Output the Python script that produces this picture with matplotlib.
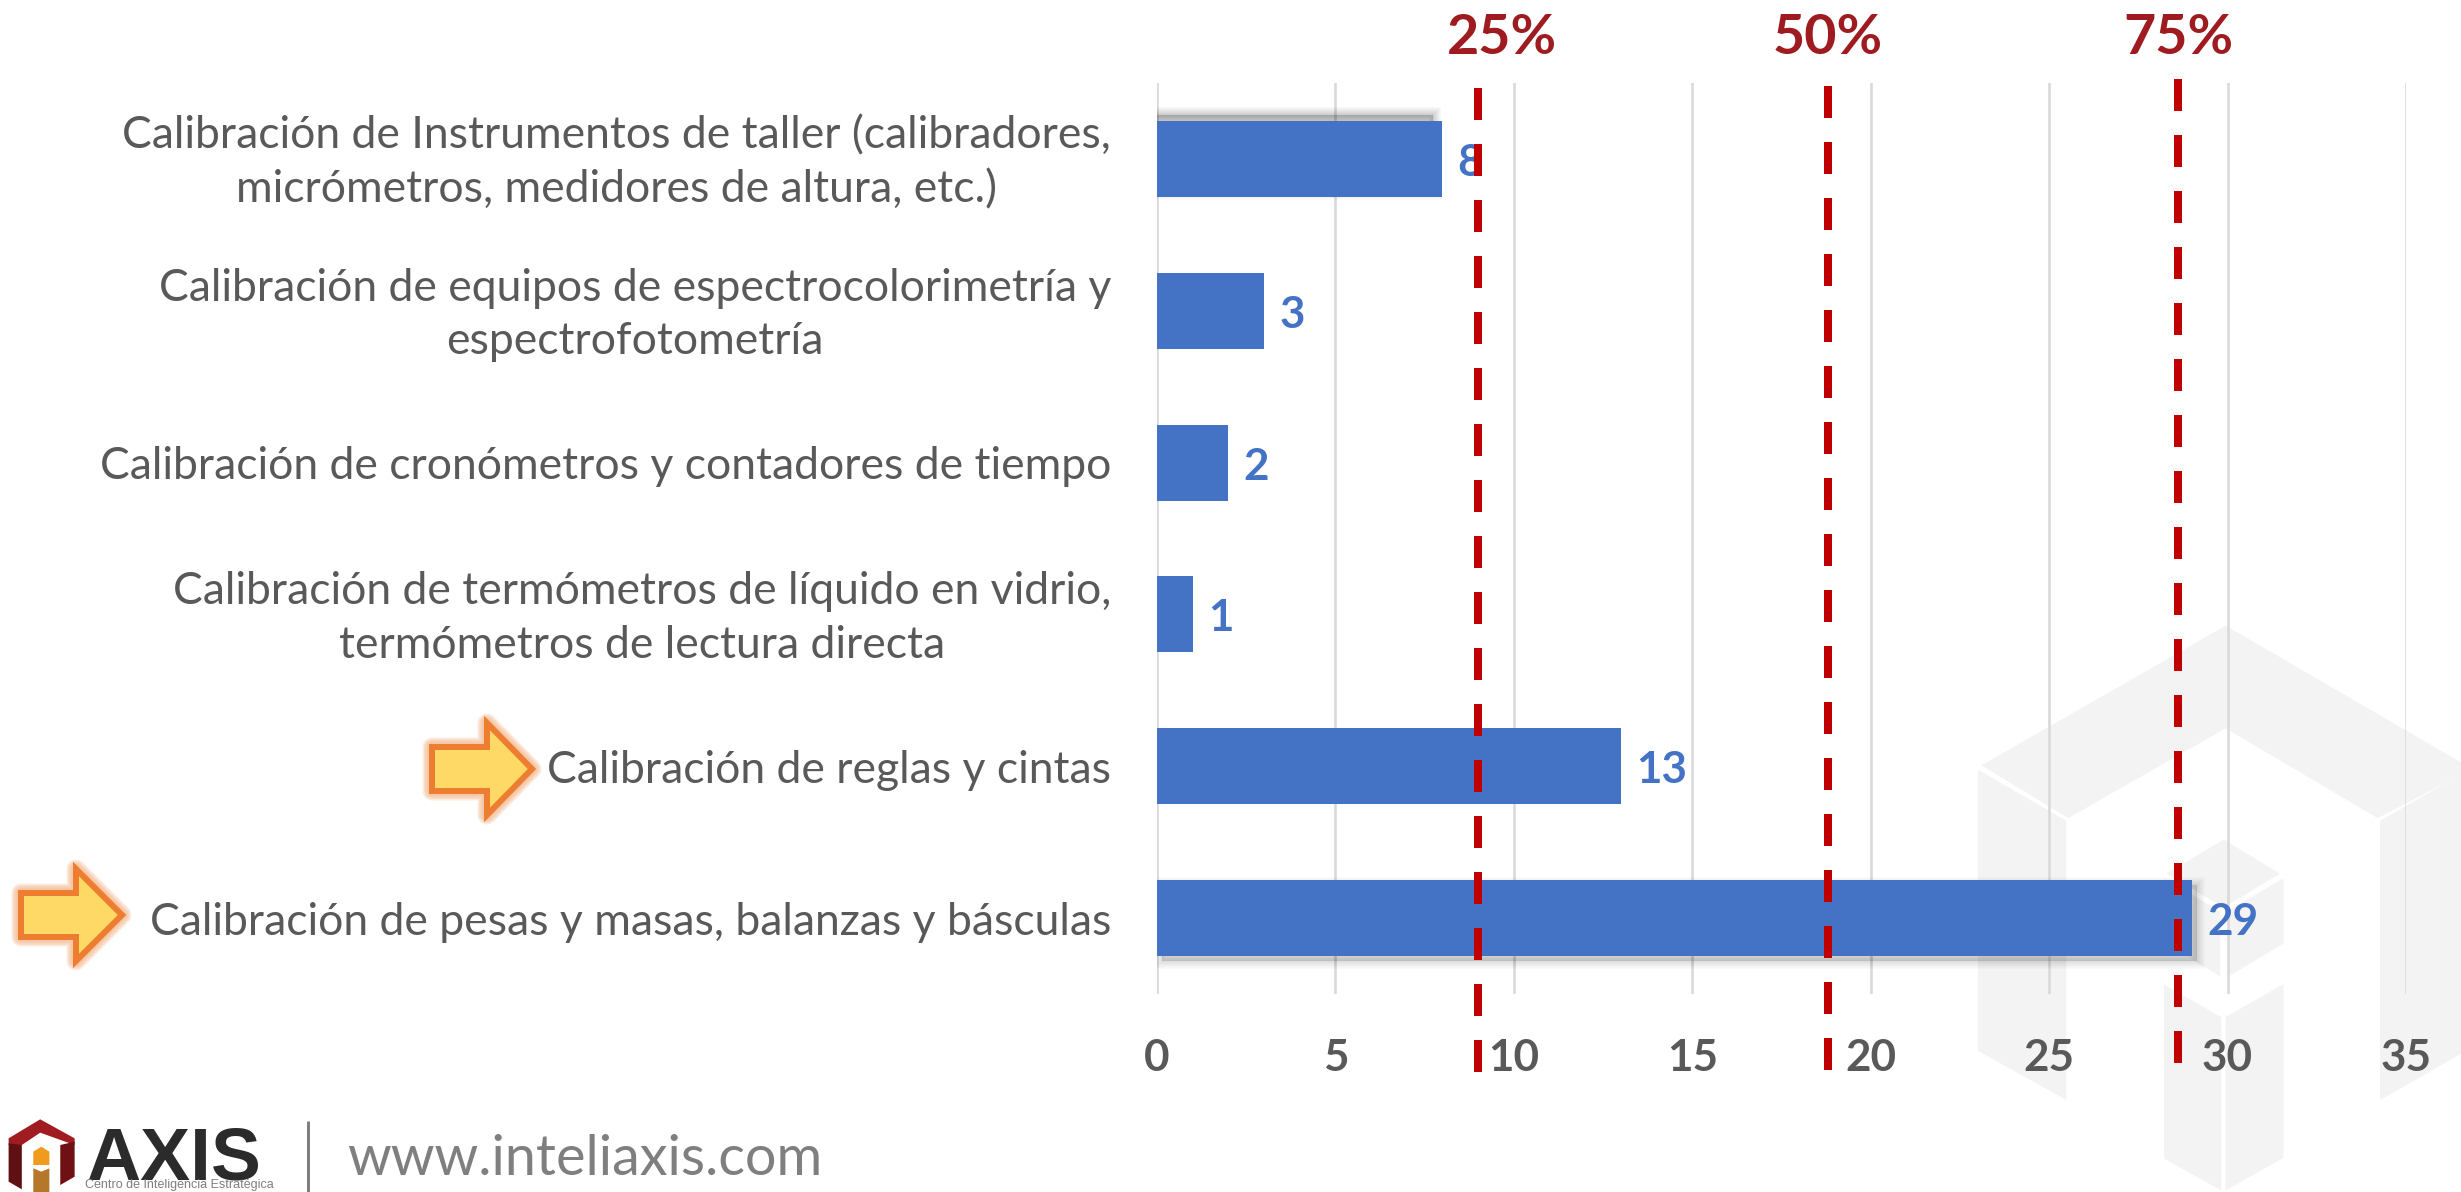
import matplotlib
matplotlib.use('Agg')
import matplotlib.pyplot as plt
import matplotlib.patheffects as pe
from matplotlib.patches import Polygon
from matplotlib.transforms import blended_transform_factory, Affine2D

categories = ['Calibración de Instrumentos de taller (calibradores,\nmicrómetros, medidores de altura, etc.)',
              'Calibración de equipos de espectrocolorimetría y\nespectrofotometría',
              'Calibración de cronómetros y contadores de tiempo',
              'Calibración de termómetros de líquido en vidrio,\ntermómetros de lectura directa',
              'Calibración de reglas y cintas',
              'Calibración de pesas y masas, balanzas y básculas']
values = [8, 3, 2, 1, 13, 29]
x_ticks = [0, 5, 10, 15, 20, 25, 30, 35]
quartiles = [9.0, 18.8, 28.6]
quartile_labels = ['25%', '50%', '75%']

W, H = 2461, 1192
PX = 72 / 100  # points per pixel at dpi 100
GREY = '#595959'
BLUE = '#4472C4'

plt.rcParams['font.family'] = ['Lato', 'DejaVu Sans']

fig = plt.figure(figsize=(W / 100, H / 100), dpi=100, facecolor='white')

# background layer in pixel coordinates: watermark, arrows, logo
bg = fig.add_axes([0, 0, 1, 1], zorder=0)
bg.set_xlim(0, W)
bg.set_ylim(H, 0)
bg.axis('off')


def wm(points):
    pts = [(1900 + x / 2.795, 600 + y / 2.65) for x, y in points]
    bg.add_patch(Polygon(pts, closed=True, fc='#F3F3F3', ec='none'))


wm([(910, 68), (1600, 448), (1335, 578), (910, 340), (470, 578), (228, 438)])
wm([(218, 450), (465, 585), (465, 1325), (218, 1195)])
wm([(1342, 585), (1600, 445), (1600, 1185), (1342, 1325)])
wm([(905, 635), (1062, 725), (905, 815), (745, 725)])
wm([(738, 738), (895, 825), (895, 998), (738, 905)])
wm([(918, 822), (1072, 738), (1072, 910), (918, 998)])
wm([(738, 1020), (898, 1105), (898, 1565), (738, 1480)])
wm([(910, 1105), (1072, 1018), (1072, 1478), (910, 1565)])


def arrow(left, notch, tip, y_mid, body, head):
    pts = [(left, y_mid - body), (notch, y_mid - body), (notch, y_mid - head), (tip, y_mid),
           (notch, y_mid + head), (notch, y_mid + body), (left, y_mid + body)]
    for w in [19, 16, 13, 10]:
        bg.add_patch(Polygon(pts, closed=True, fc='none', ec='#F4B183', alpha=0.25,
                             lw=w * PX, joinstyle='round'))
    bg.add_patch(Polygon(pts, closed=True, fc='#FFD966', ec='#ED7D31', lw=6 * PX, joinstyle='miter'))


arrow(432, 487, 532, 769, 22, 46)
arrow(21, 76, 122, 915, 22, 46)


def lg(points, color):
    pts = [(x / 1.742, 1030 + y / 3) for x, y in points]
    bg.add_patch(Polygon(pts, closed=True, fc=color, ec='none'))


lg([(15, 325), (70, 268), (130, 325), (130, 345), (70, 308), (38, 345), (15, 345)], '#A01C20')
lg([(15, 340), (38, 345), (38, 478), (15, 455)], '#5E1014')
lg([(105, 345), (130, 335), (130, 440), (105, 465)], '#6E1014')
lg([(58, 365), (72, 350), (86, 365), (86, 405), (58, 405)], '#F09A1E')
lg([(58, 415), (72, 425), (86, 415), (86, 486), (58, 486)], '#B5772A')

bg.text(86, 1180, 'AXIS', fontsize=75 * PX, fontweight='bold', color='#2B2B2B',
        family=['Liberation Sans'], ha='left', va='baseline')
bg.text(85, 1191, 'Centro de Inteligencia Estratégica', fontsize=12.5 * PX, color='#7F7F7F',
        family=['Liberation Sans Narrow', 'Liberation Sans'], ha='left', va='bottom')
bg.plot([308, 308], [1121, 1192], color='#7F7F7F', lw=3 * PX, solid_capstyle='butt')
bg.text(347, 1175, 'www.inteliaxis.com', fontsize=55.8 * PX, color='#7F7F7F', ha='left', va='baseline')

# chart
ax = fig.add_axes([1157 / W, 1 - 994 / H, (2406 - 1157) / W, (994 - 83) / H], zorder=1)
ax.patch.set_alpha(0)
y = list(range(len(values)))
bars = ax.barh(y, values, height=0.5, color=BLUE, zorder=2)


class GreyShadow(pe.Stroke):
    # same as Stroke but the fill of the layer is black, not the bar colour
    def draw_path(self, renderer, gc, tpath, affine, rgbFace):
        super().draw_path(renderer, gc, tpath, affine, (0, 0, 0))


layers = [16, 14, 12, 10, 8, 6, 4, 2]
bars[0].set_path_effects([GreyShadow(linewidth=w * PX, foreground='black', alpha=0.022,
                                     offset=(-9 * PX, 6 * PX)) for w in layers] + [pe.Normal()])
bars[5].set_path_effects([GreyShadow(linewidth=w * PX, foreground='black', alpha=0.016,
                                     offset=(5 * PX, -5 * PX)) for w in layers] + [pe.Normal()])

ax.set_xlim(0, 35)
ax.set_ylim(5.5, -0.5)
ax.set_xticks(x_ticks)
ax.set_yticks(y)
ax.set_yticklabels(categories, fontsize=44.5 * PX, color=GREY, linespacing=1.38, ma='center')
ax.tick_params(axis='y', length=0, pad=46 * PX)
ax.tick_params(axis='x', length=0, pad=64 * PX)
# two-line labels sit a little higher than the bar centre
for lab, cat in zip(ax.get_yticklabels(), categories):
    if '\n' in cat:
        lab.set_transform(lab.get_transform() + Affine2D().translate(0, 6))
for lab in ax.get_xticklabels():
    lab.set_fontsize(44 * PX)
    lab.set_fontweight('bold')
    lab.set_color(GREY)
    lab.set_va('center')
ax.grid(axis='x', color='#D9D9D9', lw=2.6 * PX, zorder=0)
ax.set_axisbelow(True)
for s in ax.spines.values():
    s.set_visible(False)

for yi, v in zip(y, values):
    ax.annotate(str(v), (v, yi), xytext=(15 * PX, -4 * PX), textcoords='offset points', fontsize=44 * PX,
                fontweight='bold', color=BLUE, ha='left', va='center', zorder=3)

# quartile lines run past the plot area
tr = blended_transform_factory(ax.transData, fig.transFigure)
for q, top, bottom in zip(quartiles, [88, 86, 79], [1072, 1070, 1063]):
    ax.plot([q, q], [1 - top / H, 1 - bottom / H], transform=tr, color='#C00000', lw=8 * PX,
            ls=(0, (4.0, 3.0)), clip_on=False, zorder=4)

for label, x_lab in zip(quartile_labels, [1502, 1828, 2178]):
    bg.text(x_lab, 38, label, fontsize=55.6 * PX, fontweight='bold', color='#9E1B20', ha='center', va='center')

fig.savefig('out.png', dpi=100)
